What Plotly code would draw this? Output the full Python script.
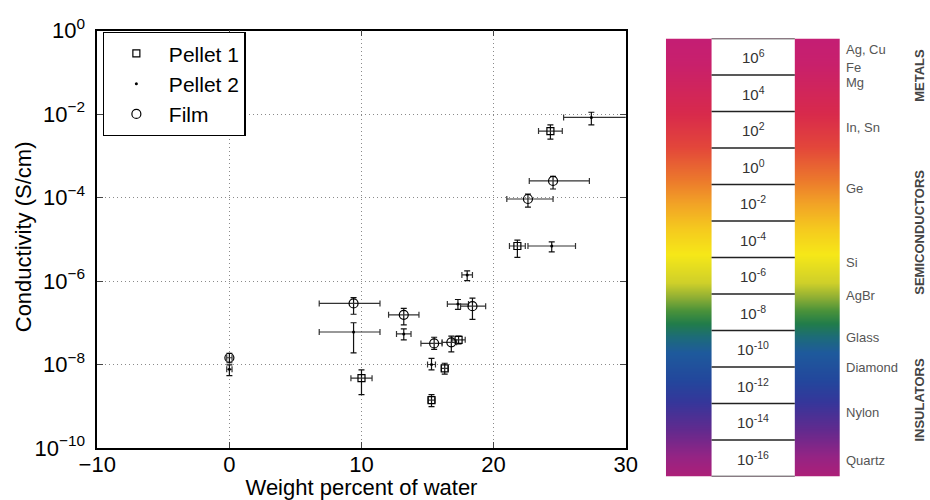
import plotly.graph_objects as go

# ---- scatter data (conductivity vs water content) ----
pellet1_x = [24.3, 21.8, 10.0, 17.35, 16.3, 15.3]
pellet1_y = [3.9e-3, 6.9e-6, 4.7e-9, 3.9e-8, 8.1e-9, 1.4e-9]
pellet1_y_hi = [5.5e-3, 9.5e-6, 7.4e-9, 4.8e-8, 1.07e-8, 1.9e-9]
pellet1_y_lo = [2.5e-3, 3.7e-6, 1.9e-9, 3.1e-8, 5.9e-9, 9.8e-10]
pellet1_xerr_plus = [0.9, 0.6, 0.8, 0.5, 0.25, 0.25]
pellet1_xerr_minus = [0.9, 0.6, 0.8, 0.5, 0.25, 0.25]

pellet2_x = [27.4, 24.4, 18.0, 0.0, 9.4, 13.2, 17.3, 15.3]
pellet2_y = [8.3e-3, 6.9e-6, 1.4e-6, 7.7e-9, 6.0e-8, 5.4e-8, 2.8e-7, 1.0e-8]
pellet2_y_hi = [1.1e-2, 8.7e-6, 1.74e-6, 9.8e-9, 1.0e-7, 7.1e-8, 3.6e-7, 1.4e-8]
pellet2_y_lo = [5.5e-3, 5.0e-6, 1.02e-6, 5.4e-9, 1.9e-8, 3.9e-8, 2.1e-7, 7.4e-9]
pellet2_xerr_plus = [3.0, 1.8, 0.4, 0.2, 2.0, 0.55, 0.8, 0.3]
pellet2_xerr_minus = [2.1, 1.8, 0.4, 0.2, 2.6, 0.55, 0.8, 0.3]

film_x = [24.5, 22.6, 0.0, 9.4, 13.2, 15.5, 16.8, 18.4]
film_y = [2.5e-4, 9.2e-5, 1.45e-8, 2.9e-7, 1.55e-7, 3.2e-8, 3.4e-8, 2.5e-7]
film_y_hi = [3.2e-4, 1.2e-4, 1.86e-8, 4.0e-7, 2.2e-7, 4.5e-8, 4.8e-8, 3.9e-7]
film_y_lo = [1.6e-4, 5.9e-5, 1.1e-8, 1.6e-7, 8.9e-8, 2.3e-8, 2.0e-8, 1.2e-7]
film_xerr_plus = [2.75, 1.9, 0.2, 2.0, 1.15, 0.6, 0.4, 1.0]
film_xerr_minus = [1.8, 1.6, 0.2, 2.6, 1.15, 1.0, 0.7, 0.9]

y_tick_exps = [-10, -8, -6, -4, -2, 0]
x_ticks = [-10, 0, 10, 20, 30]

# ---- conductivity scale panel ----
scale_exps = [6, 4, 2, 0, -2, -4, -6, -8, -10, -12, -14, -16]
materials = ["Ag, Cu", "Fe", "Mg", "In, Sn", "Ge", "Si", "AgBr",
             "Glass", "Diamond", "Nylon", "Quartz"]
material_exps = [6.4, 5.4, 4.6, 2.1, -1.2, -5.3, -7.1, -9.4, -11.0, -13.5, -16.1]
classes = ["METALS", "SEMICONDUCTORS", "INSULATORS"]
class_exps = [5.0, -3.6, -12.8]

# gradient of the colour strip, fraction from top -> colour
grad_pos = [0.0, 0.057, 0.171, 0.248, 0.325, 0.376, 0.437, 0.494, 0.558,
            0.590, 0.620, 0.650, 0.681, 0.718, 0.780, 0.832, 0.894, 0.955, 1.0]
grad_col = ["#c41e74", "#c8206c", "#d82a4c", "#e3473a", "#ec7a2c", "#f2a326",
            "#f5cb1e", "#f6e818", "#cfd02a", "#92b034", "#4a923a", "#217c4a",
            "#1d6c78", "#1e5a9c", "#23479c", "#36369a", "#632a8e", "#952484",
            "#ae1f78"]

FONT = "Liberation Sans, Arial, sans-serif"
TOP_EXP, BOT_EXP = 7, -17
GRID_DASH = "1px,3px"


def err(y, hi, lo):
    return dict(type="data", symmetric=False,
                array=[h - v for h, v in zip(hi, y)],
                arrayminus=[v - l for v, l in zip(y, lo)],
                color="#111", thickness=1.2, width=3)


def xerr(plus, minus):
    return dict(type="data", symmetric=False, array=plus, arrayminus=minus,
                color="#333", thickness=1.2, width=3)


fig = go.Figure()

fig.add_trace(go.Scatter(
    x=pellet1_x, y=pellet1_y, mode="markers", name="Pellet 1",
    marker=dict(symbol="square-open", size=7, color="black", line=dict(width=1.2)),
    error_y=err(pellet1_y, pellet1_y_hi, pellet1_y_lo),
    error_x=xerr(pellet1_xerr_plus, pellet1_xerr_minus)))
fig.add_trace(go.Scatter(
    x=pellet2_x, y=pellet2_y, mode="markers", name="Pellet 2",
    marker=dict(symbol="circle", size=3, color="black"),
    error_y=err(pellet2_y, pellet2_y_hi, pellet2_y_lo),
    error_x=xerr(pellet2_xerr_plus, pellet2_xerr_minus)))
fig.add_trace(go.Scatter(
    x=film_x, y=film_y, mode="markers", name="Film",
    marker=dict(symbol="circle-open", size=9, color="black", line=dict(width=1.2)),
    error_y=err(film_y, film_y_hi, film_y_lo),
    error_x=xerr(film_xerr_plus, film_xerr_minus)))

# colour strip as a smoothed heatmap
strip_y = [TOP_EXP - (TOP_EXP - BOT_EXP) * p for p in grad_pos]
fig.add_trace(go.Heatmap(
    x=[0, 174], y=strip_y, z=[[p, p] for p in grad_pos],
    colorscale=[[p, c] for p, c in zip(grad_pos, grad_col)],
    zmin=0, zmax=1, zsmooth="best", showscale=False, hoverinfo="skip",
    xaxis="x2", yaxis="y2"))

shapes = [dict(type="rect", xref="x2", yref="y2", x0=45.7, x1=129,
               y0=BOT_EXP, y1=TOP_EXP, fillcolor="white", line=dict(width=0))]
for e in scale_exps + [BOT_EXP - 1]:
    shapes.append(dict(type="line", xref="x2", yref="y2", x0=45.7, x1=129,
                       y0=e + 1, y1=e + 1, line=dict(color="#222", width=1.6)))

annotations = []
for e in scale_exps:
    annotations.append(dict(xref="x2", yref="y2", x=87.3, y=e,
                            text=f"10<sup>{e}</sup>", showarrow=False,
                            font=dict(family=FONT, size=15, color="#333")))
for m, e in zip(materials, material_exps):
    annotations.append(dict(xref="paper", yref="y2", x=0.907, y=e, text=m,
                            xanchor="left", showarrow=False,
                            font=dict(family=FONT, size=13, color="#555")))
for c, e in zip(classes, class_exps):
    annotations.append(dict(xref="paper", yref="y2", x=0.989, y=e,
                            text=f"<b>{c}</b>", textangle=-90, showarrow=False,
                            xanchor="center",
                            font=dict(family=FONT, size=13, color="#444")))

# y axis title placed by hand (left edge of the figure)
annotations.append(dict(xref="paper", yref="paper", x=0.025, y=0.526,
                        xanchor="center", yanchor="middle",
                        text="Conductivity (S/cm)", textangle=-90,
                        showarrow=False, font=dict(family=FONT, size=22)))

fig.update_layout(
    width=930, height=500,
    margin=dict(l=0, r=0, t=0, b=0),
    paper_bgcolor="white", plot_bgcolor="white",
    font=dict(family=FONT, size=22, color="black"),
    showlegend=True,
    legend=dict(x=0.1104, y=0.936, xanchor="left", yanchor="top",
                bgcolor="white", bordercolor="black", borderwidth=1.2,
                font=dict(size=21), itemwidth=55, tracegroupgap=0,
                entrywidth=88, entrywidthmode="pixels"),
    xaxis=dict(domain=[0.1046, 0.6728], range=[-10, 30], tickvals=x_ticks,
               showgrid=True, gridcolor="#8a8a8a", griddash=GRID_DASH, gridwidth=1,
               zeroline=False, showline=True, linecolor="black", linewidth=1.5,
               mirror="allticks", ticks="inside", ticklen=6,
               tickfont=dict(size=22), automargin=False, ticklabelstandoff=-4,
               title=dict(text="Weight percent of water", font=dict(size=22),
                          standoff=6)),
    yaxis=dict(domain=[0.104, 0.939], type="log", range=[-10, 0],
               tickvals=[10.0 ** e for e in y_tick_exps],
               ticktext=[f"10<sup>{'−' if e < 0 else ''}{abs(e)}</sup>"
                         for e in y_tick_exps],
               showgrid=True, gridcolor="#8a8a8a", griddash=GRID_DASH, gridwidth=1,
               zeroline=False, showline=True, linecolor="black", linewidth=1.5,
               mirror="allticks", ticks="inside", ticklen=6,
               tickfont=dict(size=22), automargin=False, ticklabelstandoff=6),
    xaxis2=dict(domain=[0.716, 0.903], range=[0, 174], anchor="y2",
                visible=False, fixedrange=True),
    yaxis2=dict(domain=[0.047, 0.923], range=[BOT_EXP, TOP_EXP], anchor="x2",
                visible=False, fixedrange=True),
    shapes=shapes, annotations=annotations,
)

# the page body has a default 8px margin; drop it so the figure fills the window
fig.write_html("out.html", config={"displayModeBar": False},
               post_script="document.body.style.margin='0';")
